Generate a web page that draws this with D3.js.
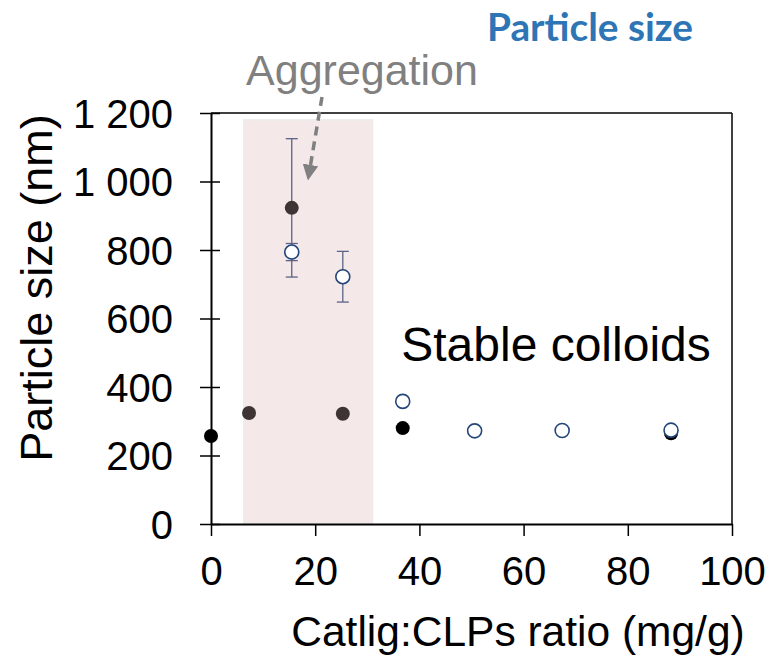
<!DOCTYPE html>
<html>
<head>
<meta charset="utf-8">
<script src="https://cdn.jsdelivr.net/npm/d3@7"></script>
<style>
  body { margin: 0; background: #fff; }
  text { font-family: "Liberation Sans", Arial, sans-serif; }
</style>
</head>
<body>
<div id="chart"></div>
<script>
// filled markers
const filledX = [0, 7.3, 15.5, 25.3, 36.8, 88.3];
const filledY = [257, 324, 923, 322, 280, 265];
const filledErr = [0, 0, 202, 0, 0, 0];
const filledColor = ["#000000", "#3f3434", "#3f3434", "#3f3434", "#000000", "#000000"];

// open markers
const openX = [15.5, 25.3, 36.8, 50.6, 67.4, 88.3];
const openY = [794, 722, 358, 272, 273, 274];
const openErr = [25, 74, 0, 0, 0, 0];

const xTicks = [0, 20, 40, 60, 80, 100];
const yTicks = [0, 200, 400, 600, 800, 1000, 1200];
const aggRange = [6.3, 31];

const width = 773, height = 660;
const margin = {top: 113, right: 41, bottom: 136, left: 211};

const svg = d3.select("#chart").append("svg")
    .attr("width", width)
    .attr("height", height);

const x = d3.scaleLinear().domain([0, 100]).range([margin.left, width - margin.right]);
const y = d3.scaleLinear().domain([0, 1200]).range([height - margin.bottom, margin.top]);

// aggregation band
svg.append("rect")
    .attr("x", x(aggRange[0]))
    .attr("y", y(1180))
    .attr("width", x(aggRange[1]) - x(aggRange[0]))
    .attr("height", y(0) - y(1180))
    .attr("fill", "#f5e8e8")
    .attr("stroke", "#ececec")
    .attr("stroke-width", 1.5);

// frame top / right
svg.append("line")
    .attr("x1", x(0)).attr("x2", x(100))
    .attr("y1", y(1200)).attr("y2", y(1200))
    .attr("stroke", "#000").attr("stroke-width", 1.5);
svg.append("line")
    .attr("x1", x(100)).attr("x2", x(100))
    .attr("y1", y(1200)).attr("y2", y(0))
    .attr("stroke", "#000").attr("stroke-width", 1.5);

// y axis, ticks cross the line
const yAxis = svg.append("g")
    .attr("transform", `translate(${x(0)},0)`)
    .call(d3.axisLeft(y).tickValues(yTicks).tickSize(0)
        .tickFormat(d => d3.format(",")(d).replace(",", " ")));
yAxis.select(".domain").attr("stroke-width", 2);
yAxis.selectAll(".tick line").attr("x1", -11).attr("x2", 9).attr("stroke-width", 1.5);
yAxis.selectAll(".tick text")
    .attr("x", -38)
    .attr("dy", "0.36em")
    .style("font-size", "40px")
    .attr("fill", "#000");

// x axis
const xAxis = svg.append("g")
    .attr("transform", `translate(0,${y(0)})`)
    .call(d3.axisBottom(x).tickValues(xTicks).tickSize(12).tickSizeOuter(0));
xAxis.select(".domain").attr("stroke-width", 2);
xAxis.selectAll(".tick line").attr("stroke-width", 1.5);
xAxis.selectAll(".tick text")
    .attr("y", 33)
    .attr("dy", "0.71em")
    .style("font-size", "40px")
    .attr("fill", "#000");

// axis titles
svg.append("text")
    .attr("transform", "translate(52,288) rotate(-90)")
    .attr("text-anchor", "middle")
    .style("font-size", "45px")
    .text("Particle size (nm)");

svg.append("text")
    .attr("x", 518)
    .attr("y", 646)
    .attr("text-anchor", "middle")
    .style("font-size", "42.5px")
    .text("Catlig:CLPs ratio (mg/g)");

// error bars
const errColor = "#5b6386";
const errData = filledX.map((d, i) => ({x: d, y: filledY[i], e: filledErr[i]}))
    .concat(openX.map((d, i) => ({x: d, y: openY[i], e: openErr[i]})))
    .filter(d => d.e > 0);

const eb = svg.append("g").selectAll("g").data(errData).enter().append("g")
    .attr("stroke", errColor).attr("stroke-width", 1.3);
eb.append("line")
    .attr("x1", d => x(d.x)).attr("x2", d => x(d.x))
    .attr("y1", d => y(d.y - d.e)).attr("y2", d => y(d.y + d.e));
eb.append("line")
    .attr("x1", d => x(d.x) - 6).attr("x2", d => x(d.x) + 6)
    .attr("y1", d => y(d.y - d.e)).attr("y2", d => y(d.y - d.e));
eb.append("line")
    .attr("x1", d => x(d.x) - 6).attr("x2", d => x(d.x) + 6)
    .attr("y1", d => y(d.y + d.e)).attr("y2", d => y(d.y + d.e));

// filled points
svg.append("g").selectAll("circle")
    .data(filledX.map((d, i) => ({x: d, y: filledY[i], c: filledColor[i]})))
    .enter().append("circle")
    .attr("cx", d => x(d.x))
    .attr("cy", d => y(d.y))
    .attr("r", 7)
    .attr("fill", d => d.c);

// open points
svg.append("g").selectAll("circle")
    .data(openX.map((d, i) => ({x: d, y: openY[i]})))
    .enter().append("circle")
    .attr("cx", d => x(d.x))
    .attr("cy", d => y(d.y))
    .attr("r", 7)
    .attr("fill", "#fff")
    .attr("stroke", "#23467a")
    .attr("stroke-width", 1.6);

// annotations
svg.append("text")
    .attr("x", 487)
    .attr("y", 41)
    .attr("textLength", 206)
    .attr("lengthAdjust", "spacingAndGlyphs")
    .style("font-family", "Lato, 'Liberation Sans', sans-serif")
    .style("font-size", "39px")
    .style("font-weight", "bold")
    .attr("fill", "#2e75b6")
    .text("Particle size");

svg.append("text")
    .attr("x", 362)
    .attr("y", 85)
    .attr("text-anchor", "middle")
    .style("font-size", "43px")
    .attr("fill", "#808080")
    .text("Aggregation");

svg.append("text")
    .attr("x", 556)
    .attr("y", 361)
    .attr("text-anchor", "middle")
    .style("font-size", "48px")
    .attr("fill", "#000")
    .text("Stable colloids");

// dashed arrow
svg.append("defs").append("marker")
    .attr("id", "head")
    .attr("viewBox", "0 0 10 10")
    .attr("refX", 2).attr("refY", 5)
    .attr("markerWidth", 4.5).attr("markerHeight", 4.5)
    .attr("orient", "auto")
    .append("path")
    .attr("d", "M0,0 L10,5 L0,10 Z")
    .attr("fill", "#808080");

svg.append("line")
    .attr("x1", 322).attr("y1", 97)
    .attr("x2", 310).attr("y2", 168)
    .attr("stroke", "#808080")
    .attr("stroke-width", 3.5)
    .attr("stroke-dasharray", "9,6")
    .attr("marker-end", "url(#head)");
</script>
</body>
</html>
